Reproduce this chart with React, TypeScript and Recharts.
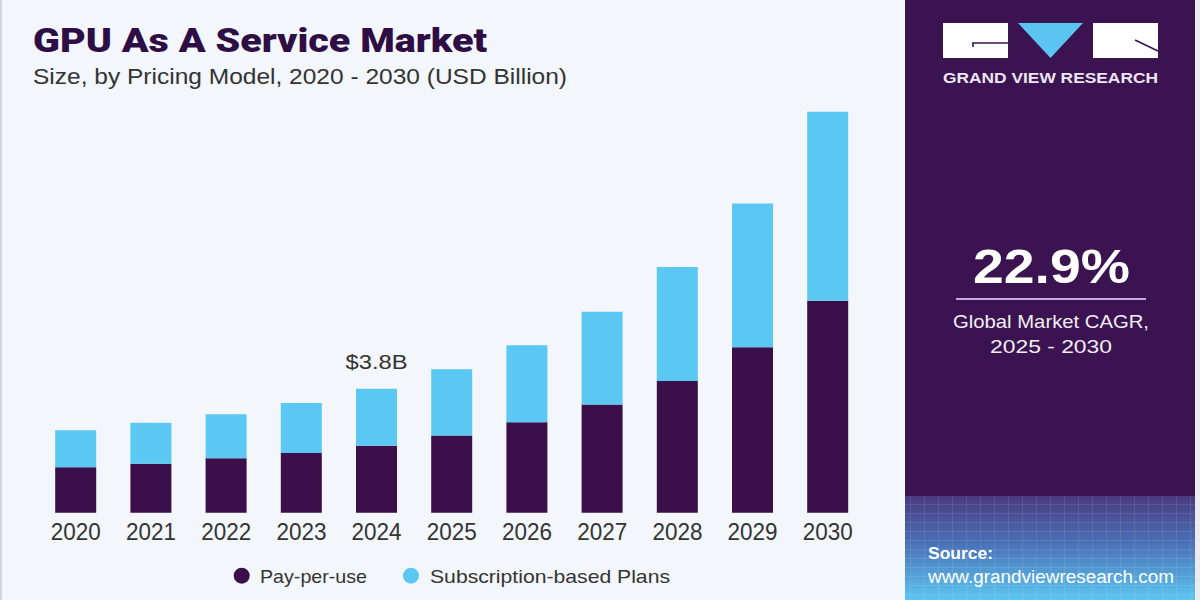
import React from 'react';
import { BarChart, Bar, XAxis, YAxis, LabelList } from 'recharts';

const years = ['2020', '2021', '2022', '2023', '2024', '2025', '2026', '2027', '2028', '2029', '2030'];
const payPerUse = [1.39, 1.5, 1.67, 1.83, 2.05, 2.37, 2.77, 3.32, 4.04, 5.07, 6.5];
const subscription = [1.14, 1.26, 1.35, 1.53, 1.75, 2.03, 2.36, 2.84, 3.49, 4.41, 5.79];
const seriesNames = ['Pay-per-use', 'Subscription-based Plans'];
const highlightIndex = 4;
const highlightLabel = '$3.8B';

const DARK = '#3a0f4a';
const BLUE = '#5bc8f3';
const PANEL = '#3a1350';
const BG = '#f3f7fb';
const TEXT = '#333333';

const data = years.map((y, i) => ({ year: y, pay: payPerUse[i], sub: subscription[i] }));

const YearTick = (props: any) => {
  const { x, y, payload } = props;
  return (
    <text x={x} y={y + 27.3} textAnchor="middle" fill={TEXT} fontSize={24}
      fontFamily="'Liberation Sans', Arial, sans-serif" textLength={50} lengthAdjust="spacingAndGlyphs">
      {payload.value}
    </text>
  );
};

const TopLabel = (props: any) => {
  const { x, y, width, index } = props;
  if (index !== highlightIndex) return null;
  return (
    <text x={Number(x) + Number(width) / 2} y={Number(y) - 19.7} textAnchor="middle" fill={TEXT}
      fontSize={20} fontFamily="'Liberation Sans', Arial, sans-serif" textLength={62} lengthAdjust="spacingAndGlyphs">
      {highlightLabel}
    </text>
  );
};

const sans = "'Liberation Sans', Arial, sans-serif";

export default function App() {
  return (
    <div style={{ position: 'absolute', left: 0, top: 0, width: 1200, height: 600, background: BG, overflow: 'hidden' }}>
      <svg width={1200} height={600} style={{ position: 'absolute', left: 0, top: 0 }}>
        <defs>
          <linearGradient id="srcGrad" x1="0" y1="0" x2="0" y2="1">
            <stop offset="0%" stopColor="#4a3a80" />
            <stop offset="45%" stopColor="#4a70b6" />
            <stop offset="100%" stopColor="#5cc6f0" />
          </linearGradient>
          <pattern id="grid" width="14" height="9" patternUnits="userSpaceOnUse">
            <path d="M14 0 L0 0 0 9" fill="none" stroke="#ffffff" strokeOpacity={0.18} strokeWidth={1} />
          </pattern>
        </defs>
        <rect x={0} y={0} width={2} height={600} fill="#d3d7dc" />
        <rect x={1195} y={0} width={5} height={600} fill="#ecebf2" />
        <rect x={905} y={0} width={290} height={600} fill={PANEL} />
        <rect x={905} y={496} width={290} height={104} fill="url(#srcGrad)" />
        <rect x={905} y={496} width={290} height={104} fill="url(#grid)" />
        {/* logo */}
        <rect x={943} y={23} width={65} height={35} fill="#ffffff" />
        <path d="M973 47 L973 43 L1008 43" fill="none" stroke="#3a1350" strokeWidth={1.6} />
        <polygon points="1018,23 1083,23 1050.5,58" fill="#5bc4f0" />
        <rect x={1093} y={23} width={65} height={35} fill="#ffffff" />
        <line x1={1135} y1={40} x2={1158} y2={51} stroke="#3a1350" strokeWidth={1.6} />
        <text x={943} y={83.3} fill="#ece6f3" fontSize={14.5} fontWeight={700} fontFamily={sans}
          textLength={215} lengthAdjust="spacingAndGlyphs">GRAND VIEW RESEARCH</text>
        {/* CAGR */}
        <text x={973} y={283} fill="#ffffff" fontSize={48} fontWeight={700} fontFamily={sans}
          textLength={157} lengthAdjust="spacingAndGlyphs">22.9%</text>
        <line x1={956} y1={299} x2={1146} y2={299} stroke="#c8a6e0" strokeWidth={2} />
        <text x={1051} y={328} textAnchor="middle" fill="#f2eef6" fontSize={19} fontFamily={sans}
          textLength={196} lengthAdjust="spacingAndGlyphs">Global Market CAGR,</text>
        <text x={1051} y={353} textAnchor="middle" fill="#f2eef6" fontSize={19} fontFamily={sans}
          textLength={122} lengthAdjust="spacingAndGlyphs">2025 - 2030</text>
        {/* source */}
        <text x={928} y={559.3} fill="#ffffff" fontSize={17} fontWeight={700} fontFamily={sans}
          textLength={65} lengthAdjust="spacingAndGlyphs">Source:</text>
        <text x={928} y={583.3} fill="#ffffff" fontSize={18} fontFamily={sans}
          textLength={246} lengthAdjust="spacingAndGlyphs">www.grandviewresearch.com</text>
        {/* title */}
        <text x={33} y={52} fill="#2e0e45" fontSize={34} fontWeight={900} fontFamily="Roboto, 'Liberation Sans', Arial, sans-serif"
          textLength={454} lengthAdjust="spacingAndGlyphs">GPU As A Service Market</text>
        <text x={33} y={84} fill={TEXT} fontSize={22} fontFamily={sans}
          textLength={534} lengthAdjust="spacingAndGlyphs">Size, by Pricing Model, 2020 - 2030 (USD Billion)</text>
        {/* legend */}
        <circle cx={241.7} cy={575.7} r={8} fill={DARK} />
        <text x={260} y={583} fill={TEXT} fontSize={19} fontFamily={sans}
          textLength={107} lengthAdjust="spacingAndGlyphs">{seriesNames[0]}</text>
        <circle cx={411} cy={575.7} r={8} fill={BLUE} />
        <text x={430} y={583} fill={TEXT} fontSize={19} fontFamily={sans}
          textLength={240} lengthAdjust="spacingAndGlyphs">{seriesNames[1]}</text>
      </svg>
      <div style={{ position: 'absolute', left: 0, top: 0 }}>
        <BarChart width={905} height={600} data={data} barSize={41}
          margin={{ top: 88.6, right: 39.6, left: 38.2, bottom: 57.3 }}>
          <XAxis dataKey="year" axisLine={false} tickLine={false} tickSize={0} tickMargin={0}
            height={30} interval={0} tick={<YearTick />} />
          <YAxis hide domain={[0, 13]} />
          <Bar dataKey="pay" name={seriesNames[0]} stackId="a" fill={DARK} isAnimationActive={false} />
          <Bar dataKey="sub" name={seriesNames[1]} stackId="a" fill={BLUE} isAnimationActive={false}>
            <LabelList dataKey="sub" content={<TopLabel />} />
          </Bar>
        </BarChart>
      </div>
    </div>
  );
}
